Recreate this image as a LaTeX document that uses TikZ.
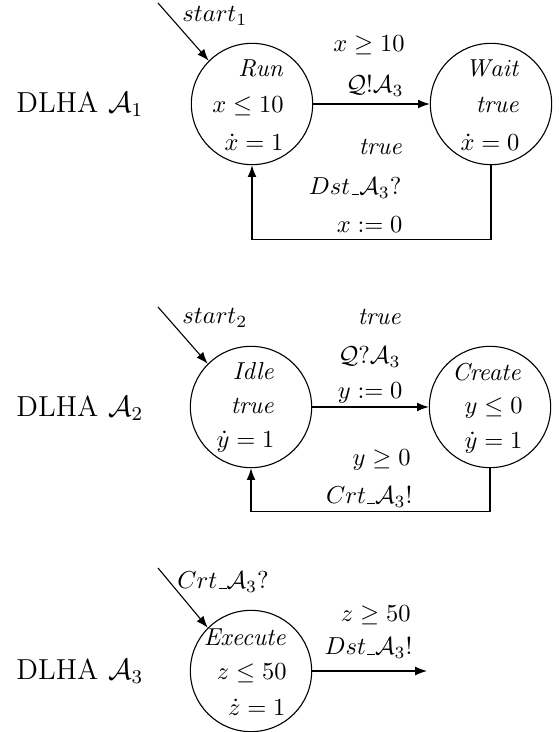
\documentclass[tikz,border=0pt]{standalone}
\usetikzlibrary{arrows.meta}
\newcommand{\usc}{\mbox{\kern.06em\vbox{\hrule width.3em}}}
\begin{document}
\begin{tikzpicture}[x=0.408pt,y=-0.408pt,
  state/.style={draw,circle,minimum size=49.5pt,inner sep=0pt,line width=0.45pt},
  txt/.style={inner sep=0pt,anchor=east,font=\fontsize{10.4}{12.5}\selectfont},
  ltxt/.style={inner sep=0pt,anchor=west,font=\fontsize{10.4}{12.5}\selectfont},
  big/.style={inner sep=0pt,anchor=west,font=\fontsize{11.8}{14}\selectfont},
  edge/.style={line width=0.45pt,-{Latex[length=4.8pt,width=3.6pt]}}]
\useasboundingbox (0,0) rectangle (558,732);

% ---------- Automaton 1 ----------
\node[big] (d1) at (16,104) {DLHA\hspace{4pt}$\mathcal{A}_1$};
\node[state] (run) at (252,104) {};
\node[state] (wait) at (491,104) {};
\coordinate (s1) at (158,3);
\node[ltxt] (st1) at (182,16) {$start_1$};
\node[txt] (r1) at (285,68) {$\mathit{Run}$};
\node[txt] (r2) at (284,106) {$x\leq 10$};
\node[txt] (r3) at (284,142) {$\dot{x}=1$};
\node[txt] (w1) at (521,68) {$\mathit{Wait}$};
\node[txt] (w2) at (521,105) {$\mathit{true}$};
\node[txt] (w3) at (520,142) {$\dot{x}=0$};
\node[txt] (e11) at (405,45) {$x\geq 10$};
\node[txt] (e12) at (404,86) {$\mathcal{Q}!\mathcal{A}_3$};
\node[txt] (e13) at (404,147) {$\mathit{true}$};
\node[txt] (e14) at (402,188) {$Dst\usc\mathcal{A}_3?$};
\node[txt] (e15) at (403,225) {$x:=0$};
\draw[edge] (s1) -- (run.north west);
\draw[edge] (run) -- (wait);
\draw[edge] (wait.south) -- ++(0,74) -| (run.south);

% ---------- Automaton 2 ----------
\node[big] (d2) at (16,408) {DLHA\hspace{4pt}$\mathcal{A}_2$};
\node[state] (idle) at (251,407) {};
\node[state] (create) at (490,407) {};
\coordinate (s2) at (158,307);
\node[ltxt] (st2) at (182,318) {$start_2$};
\node[txt] (i1) at (276,371) {$\mathit{Idle}$};
\node[txt] (i2) at (276,406) {$\mathit{true}$};
\node[txt] (i3) at (275,442) {$\dot{y}=1$};
\node[txt] (c1) at (523,372) {$\mathit{Create}$};
\node[txt] (c2) at (523,408) {$y\leq 0$};
\node[txt] (c3) at (523,443) {$\dot{y}=1$};
\node[txt] (e21) at (403,317) {$\mathit{true}$};
\node[txt] (e22) at (401,357) {$\mathcal{Q}?\mathcal{A}_3$};
\node[txt] (e23) at (403,393) {$y:=0$};
\node[txt] (e24) at (411,460) {$y\geq 0$};
\node[txt] (e25) at (413,497) {$Crt\usc\mathcal{A}_3!$};
\draw[edge] (s2) -- (idle.north west);
\draw[edge] (idle) -- (create);
\draw[edge] (create.south) -- ++(0,43) -| (idle.south);

% ---------- Automaton 3 ----------
\node[big] (d3) at (16,671) {DLHA\hspace{4pt}$\mathcal{A}_3$};
\node[state] (exec) at (251,671) {};
\coordinate (s3) at (158,568);
\coordinate (out3) at (427,671);
\node[ltxt] (st3) at (177,582) {$Crt\usc\mathcal{A}_3?$};
\node[txt] (x1) at (288,637) {$\mathit{Execute}$};
\node[txt] (x2) at (287,673) {$z\leq 50$};
\node[txt] (x3) at (286,707) {$\dot{z}=1$};
\node[txt] (e31) at (411,615) {$z\geq 50$};
\node[txt] (e32) at (413,648) {$Dst\usc\mathcal{A}_3!$};
\draw[edge] (s3) -- (exec.north west);
\draw[edge] (exec) -- (out3);
\end{tikzpicture}
\end{document}
